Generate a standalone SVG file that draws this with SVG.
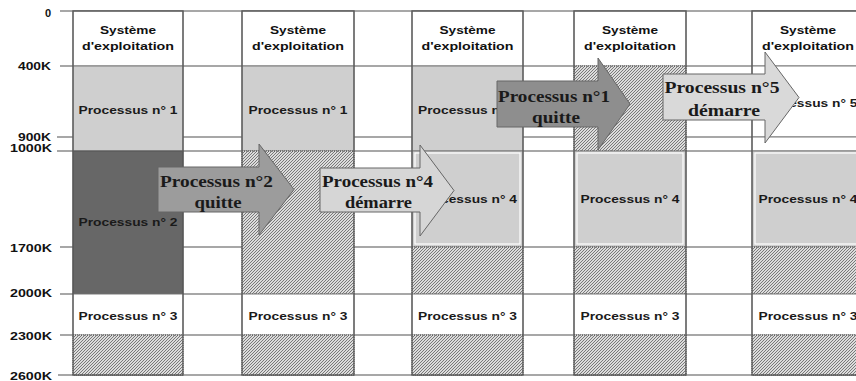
<svg xmlns="http://www.w3.org/2000/svg" width="856" height="381" viewBox="0 0 856 381">
<style>
.ax{font-family:"Liberation Sans",Arial,sans-serif;font-size:11px;font-weight:bold;fill:#111;text-anchor:end}
.os{font-family:"Liberation Sans",Arial,sans-serif;font-size:11.5px;font-weight:bold;fill:#111;text-anchor:middle}
.pr{font-family:"Liberation Sans",Arial,sans-serif;font-size:11.5px;font-weight:bold;fill:#1a1a1a;text-anchor:middle}
.at{font-family:"Liberation Serif","Times New Roman",serif;font-size:17px;font-weight:bold;fill:#1a1a1a;text-anchor:middle}
.hl{stroke:#8a8a8a;stroke-width:1.5}
.white{fill:#fff;stroke:#7a7a7a;stroke-width:1}
.light{fill:#cfcfcf;stroke:#7a7a7a;stroke-width:1}
.dark{fill:#676767;stroke:#555;stroke-width:1}
.hatch{fill:url(#hatch);stroke:#444;stroke-width:1;stroke-dasharray:1 1}
.col{fill:none;stroke:#5a5a5a;stroke-width:1.3}
.box{fill:none;stroke:#fff;stroke-width:1.2}
.arr{stroke:#666;stroke-width:1}
</style>
<defs>
<pattern id="hatch" patternUnits="userSpaceOnUse" width="3" height="3">
<rect width="3" height="3" fill="#dcdcdc"/>
<path d="M-1,1 L1,-1 M0,3 L3,0 M2,4 L4,2" stroke="#6e6e6e" stroke-width="0.9"/>
</pattern>
</defs>
<rect width="856" height="381" fill="#fff"/>

<g id="axis">
<line class="hl" x1="60" y1="11" x2="856" y2="11"/>
<line class="hl" x1="60" y1="66" x2="856" y2="66"/>
<line class="hl" x1="57" y1="137" x2="856" y2="137"/>
<line class="hl" x1="57" y1="151" x2="856" y2="151"/>
<line class="hl" x1="60" y1="247" x2="856" y2="247"/>
<line class="hl" x1="60" y1="294" x2="856" y2="294"/>
<line class="hl" x1="60" y1="335" x2="856" y2="335"/>
<line class="hl" x1="58" y1="375" x2="856" y2="375"/>
<text class="ax" x="51" y="17">0</text>
<text class="ax" x="51" y="70" textLength="33" lengthAdjust="spacingAndGlyphs">400K</text>
<text class="ax" x="51" y="141" textLength="33" lengthAdjust="spacingAndGlyphs">900K</text>
<text class="ax" x="52" y="152" textLength="42" lengthAdjust="spacingAndGlyphs">1000K</text>
<text class="ax" x="52" y="252" textLength="42" lengthAdjust="spacingAndGlyphs">1700K</text>
<text class="ax" x="52" y="297" textLength="42" lengthAdjust="spacingAndGlyphs">2000K</text>
<text class="ax" x="52" y="340" textLength="42" lengthAdjust="spacingAndGlyphs">2300K</text>
<text class="ax" x="52" y="380" textLength="42" lengthAdjust="spacingAndGlyphs">2600K</text>
</g>

<g id="col1">
<rect class="white" x="73" y="11" width="110" height="55"/>
<rect class="light" x="73" y="66" width="110" height="85"/>
<rect class="dark" x="73" y="151" width="110" height="143"/>
<rect class="white" x="73" y="294" width="110" height="41"/>
<rect class="hatch" x="73" y="335" width="110" height="40"/>
<rect class="col" x="73" y="11" width="110" height="364"/>
<text class="os" x="128" y="34" textLength="56" lengthAdjust="spacingAndGlyphs">Système</text>
<text class="os" x="128" y="50" textLength="92" lengthAdjust="spacingAndGlyphs">d'exploitation</text>
<text class="pr" x="128" y="113.5" textLength="99" lengthAdjust="spacingAndGlyphs">Processus n° 1</text>
<text class="pr" x="128" y="226" textLength="99" lengthAdjust="spacingAndGlyphs">Processus n° 2</text>
<text class="pr" x="128" y="319.5" textLength="99" lengthAdjust="spacingAndGlyphs">Processus n° 3</text>
</g>

<g id="col2">
<rect class="white" x="242" y="11" width="112" height="55"/>
<rect class="light" x="242" y="66" width="112" height="85"/>
<rect class="hatch" x="242" y="151" width="112" height="143"/>
<rect class="white" x="242" y="294" width="112" height="41"/>
<rect class="hatch" x="242" y="335" width="112" height="40"/>
<rect class="col" x="242" y="11" width="112" height="364"/>
<text class="os" x="298" y="34" textLength="56" lengthAdjust="spacingAndGlyphs">Système</text>
<text class="os" x="298" y="50" textLength="92" lengthAdjust="spacingAndGlyphs">d'exploitation</text>
<text class="pr" x="298" y="113.5" textLength="99" lengthAdjust="spacingAndGlyphs">Processus n° 1</text>
<text class="pr" x="298" y="319.5" textLength="99" lengthAdjust="spacingAndGlyphs">Processus n° 3</text>
</g>

<g id="col3">
<rect class="white" x="412" y="11" width="111" height="55"/>
<rect class="light" x="412" y="66" width="111" height="85"/>
<rect class="light" x="412" y="151" width="111" height="96"/>
<rect class="box" x="415" y="153" width="105" height="91"/>
<rect class="hatch" x="412" y="247" width="111" height="47"/>
<rect class="white" x="412" y="294" width="111" height="41"/>
<rect class="hatch" x="412" y="335" width="111" height="40"/>
<rect class="col" x="412" y="11" width="111" height="364"/>
<text class="os" x="467.5" y="34" textLength="56" lengthAdjust="spacingAndGlyphs">Système</text>
<text class="os" x="467.5" y="50" textLength="92" lengthAdjust="spacingAndGlyphs">d'exploitation</text>
<text class="pr" x="467.5" y="113.5" textLength="99" lengthAdjust="spacingAndGlyphs">Processus n° 1</text>
<text class="pr" x="467.5" y="203" textLength="99" lengthAdjust="spacingAndGlyphs">Processus n° 4</text>
<text class="pr" x="467.5" y="319.5" textLength="99" lengthAdjust="spacingAndGlyphs">Processus n° 3</text>
</g>

<g id="col4">
<rect class="white" x="574" y="11" width="112" height="55"/>
<rect class="hatch" x="574" y="66" width="112" height="85"/>
<rect class="light" x="574" y="151" width="112" height="96"/>
<rect class="box" x="577" y="153" width="106" height="91"/>
<rect class="hatch" x="574" y="247" width="112" height="47"/>
<rect class="white" x="574" y="294" width="112" height="41"/>
<rect class="hatch" x="574" y="335" width="112" height="40"/>
<rect class="col" x="574" y="11" width="112" height="364"/>
<text class="os" x="630" y="34" textLength="56" lengthAdjust="spacingAndGlyphs">Système</text>
<text class="os" x="630" y="50" textLength="92" lengthAdjust="spacingAndGlyphs">d'exploitation</text>
<text class="pr" x="630" y="203" textLength="99" lengthAdjust="spacingAndGlyphs">Processus n° 4</text>
<text class="pr" x="630" y="319.5" textLength="99" lengthAdjust="spacingAndGlyphs">Processus n° 3</text>
</g>

<g id="col5">
<rect class="white" x="752" y="11" width="112" height="55"/>
<rect class="white" x="752" y="66" width="112" height="71"/>
<rect class="white" x="752" y="137" width="112" height="14"/>
<rect class="light" x="752" y="151" width="112" height="96"/>
<rect class="box" x="755" y="153" width="106" height="91"/>
<rect class="hatch" x="752" y="247" width="112" height="47"/>
<rect class="white" x="752" y="294" width="112" height="41"/>
<rect class="hatch" x="752" y="335" width="112" height="40"/>
<rect class="col" x="752" y="11" width="112" height="364"/>
<text class="os" x="808" y="34" textLength="56" lengthAdjust="spacingAndGlyphs">Système</text>
<text class="os" x="808" y="50" textLength="92" lengthAdjust="spacingAndGlyphs">d'exploitation</text>
<text class="pr" x="808" y="106.5" textLength="99" lengthAdjust="spacingAndGlyphs">Processus n° 5</text>
<text class="pr" x="808" y="203" textLength="99" lengthAdjust="spacingAndGlyphs">Processus n° 4</text>
<text class="pr" x="808" y="319.5" textLength="99" lengthAdjust="spacingAndGlyphs">Processus n° 3</text>
</g>

<g id="connectors">
<g id="arrow-p2-quitte">
<polygon class="arr" fill="#9c9c9c" points="158,167 259,167 259,144 294,189.5 259,235 259,212 158,212"/>
<text class="at" x="216.5" y="187" textLength="113" lengthAdjust="spacingAndGlyphs">Processus n°2</text>
<text class="at" x="218" y="208" textLength="47" lengthAdjust="spacingAndGlyphs">quitte</text>
</g>
<g id="arrow-p4-demarre">
<polygon class="arr" fill="#d6d6d6" points="320,168 420,168 420,145 454,190.5 420,236 420,212 320,212"/>
<text class="at" x="377.5" y="187" textLength="111" lengthAdjust="spacingAndGlyphs">Processus n°4</text>
<text class="at" x="378.5" y="208" textLength="67" lengthAdjust="spacingAndGlyphs">démarre</text>
</g>
<g id="arrow-p1-quitte">
<polygon class="arr" fill="#8e8e8e" points="497,81 598,81 598,58 630,104 598,150 598,127 497,127"/>
<text class="at" x="554" y="101.5" textLength="112" lengthAdjust="spacingAndGlyphs">Processus n°1</text>
<text class="at" x="556" y="123" textLength="48" lengthAdjust="spacingAndGlyphs">quitte</text>
</g>
<g id="arrow-p5-demarre">
<polygon class="arr" fill="#d9d9d9" points="663,74 765,74 765,52 799,97.5 765,143 765,120 663,120"/>
<text class="at" x="722" y="93" textLength="115" lengthAdjust="spacingAndGlyphs">Processus n°5</text>
<text class="at" x="724" y="116" textLength="72" lengthAdjust="spacingAndGlyphs">démarre</text>
</g>
</g>
</svg>
